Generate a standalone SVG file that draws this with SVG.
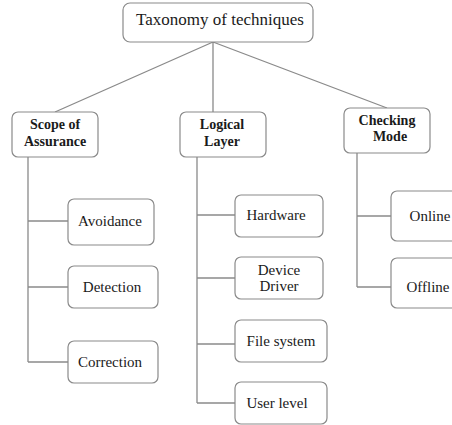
<svg xmlns="http://www.w3.org/2000/svg" width="452" height="425" viewBox="0 0 452 425">
<style>
.box{fill:#fff;stroke:#8a8a8a;stroke-width:1.2}
.ln{fill:none;stroke:#8a8a8a;stroke-width:1.3}
.t{font-family:"Liberation Serif","Times New Roman",serif;fill:#1a1a1a;text-anchor:middle}
.r{font-size:15px}
.b{font-size:14px;font-weight:bold}
</style>
<rect width="452" height="425" fill="#fff"/>
<g id="connectors">
<path class="ln" d="M213,42 L55,112 M213,42 L213,112 M213,42 L387,108"/>
<path class="ln" d="M28,157 V362 M28,221 H68 M28,287 H68 M28,362 H68"/>
<path class="ln" d="M197,157 V403 M197,215 H235 M197,278 H235 M197,344 H235 M197,403 H235"/>
<path class="ln" d="M357,153 V287 M357,216 H391 M357,287 H391"/>
</g>
<g id="root"><rect class="box" x="123" y="3" width="190" height="39" rx="7"/><text class="t" x="220" y="25" font-size="17">Taxonomy of techniques</text></g>
<g id="scope"><rect class="box" x="12" y="112" width="86" height="45" rx="6"/><text class="t b" x="55" y="129">Scope of</text><text class="t b" x="55" y="146">Assurance</text></g>
<g id="logical"><rect class="box" x="180" y="112" width="86" height="45" rx="6"/><text class="t b" x="222" y="129">Logical</text><text class="t b" x="222" y="146">Layer</text></g>
<g id="checking"><rect class="box" x="344" y="108" width="86" height="45" rx="6"/><text class="t b" x="387" y="125">Checking</text><text class="t b" x="390" y="141">Mode</text></g>
<g id="avoidance"><rect class="box" x="68" y="199" width="86" height="46" rx="6"/><text class="t r" x="110" y="226">Avoidance</text></g>
<g id="detection"><rect class="box" x="68" y="266" width="90" height="42" rx="6"/><text class="t r" x="112" y="292">Detection</text></g>
<g id="correction"><rect class="box" x="68" y="341" width="90" height="42" rx="6"/><text class="t r" x="110" y="367">Correction</text></g>
<g id="hardware"><rect class="box" x="235" y="195" width="88" height="42" rx="6"/><text class="t r" x="276" y="220">Hardware</text></g>
<g id="driver"><rect class="box" x="235" y="257" width="88" height="42" rx="6"/><text class="t r" x="279" y="275">Device</text><text class="t r" x="279" y="291">Driver</text></g>
<g id="filesystem"><rect class="box" x="235" y="320" width="92" height="42" rx="6"/><text class="t r" x="281" y="346">File system</text></g>
<g id="userlevel"><rect class="box" x="235" y="382" width="92" height="42" rx="6"/><text class="t r" x="277" y="408">User level</text></g>
<g id="online"><rect class="box" x="391" y="191" width="80" height="50" rx="6"/><text class="t r" x="430" y="221">Online</text></g>
<g id="offline"><rect class="box" x="391" y="258" width="80" height="50" rx="6"/><text class="t r" x="428" y="292">Offline</text></g>
</svg>
